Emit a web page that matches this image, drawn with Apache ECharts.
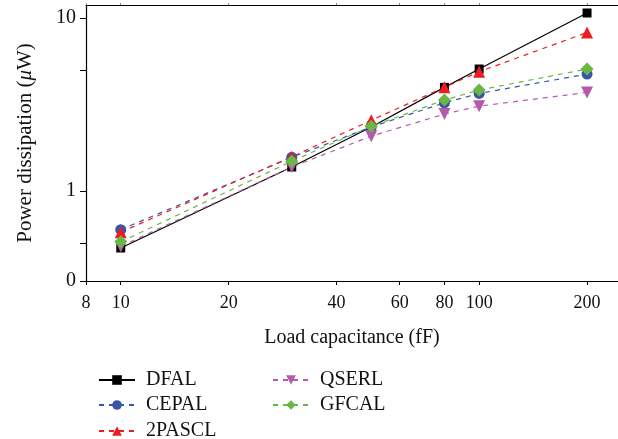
<!DOCTYPE html>
<html>
<head>
<meta charset="utf-8">
<script src="https://cdn.jsdelivr.net/npm/echarts@6/dist/echarts.min.js"></script>
<style>html,body{margin:0;padding:0;background:#fff;}#c{width:618px;height:439px;}</style>
</head>
<body>
<div id="c"></div>
<script>
const capacitance = [10, 30, 50, 80, 100, 200];
const DFAL   = [0.47, 1.38, 2.35, 3.98, 5.08, 10.7];
const CEPAL  = [0.60, 1.57, 2.35, 3.24, 3.67, 4.75];
const PASCL2 = [0.58, 1.58, 2.57, 3.98, 4.90, 8.25];
const QSERL  = [0.48, 1.38, 2.08, 2.79, 3.10, 3.72];
const GFCAL  = [0.51, 1.49, 2.37, 3.36, 3.84, 5.08];
const xTickValues = [8, 10, 20, 40, 60, 80, 100, 200];
const yLabelValues = [0.303, 1, 10];
const yTickValues = [0.303, 0.5, 1, 5, 10];
const seriesNames = ['DFAL', 'CEPAL', '2PASCL', 'QSERL', 'GFCAL'];

const FONT = 'Liberation Serif';
const pts = arr => capacitance.map((x, i) => [x, arr[i]]);

function mk(name, data, color, symbol, dashed, size) {
  return {
    name: name, type: 'line', data: pts(data),
    symbol: symbol, symbolSize: size,
    itemStyle: {color: color},
    lineStyle: {color: color, width: 1.2, type: dashed ? [5, 5] : 'solid'},
    emphasis: {disabled: true}
  };
}

const legendPos = [[93, 365], [93, 390], [93, 416], [267, 365], [267, 390]];
const legends = seriesNames.map((n, i) => ({
  data: [n], left: legendPos[i][0], top: legendPos[i][1],
  itemWidth: 36, itemHeight: 12, itemGap: 0,
  textStyle: {fontFamily: FONT, fontSize: 20, color: '#111', padding: [0, 0, 0, 6]}
}));

const chart = echarts.init(document.getElementById('c'), null, {renderer: 'canvas'});
chart.setOption({
  animation: false,
  backgroundColor: '#fff',
  grid: {left: 86, right: 0, top: 5, bottom: 158},
  xAxis: [{
    type: 'log', min: 8, max: 244,
    name: 'Load capacitance (fF)', nameLocation: 'middle', nameGap: 47,
    nameTextStyle: {fontFamily: FONT, fontSize: 20, color: '#111'},
    axisLine: {lineStyle: {color: '#000', width: 1.2}},
    axisTick: {length: 4, inside: false, customValues: xTickValues, lineStyle: {color: '#000'}},
    axisLabel: {customValues: xTickValues, fontFamily: FONT, fontSize: 18, color: '#111', margin: 13,
      formatter: v => String(Math.round(v))},
    splitLine: {show: false}, minorTick: {show: false}
  }, {
    type: 'log', min: 8, max: 244, position: 'top',
    axisLine: {lineStyle: {color: '#000', width: 1.2}},
    axisTick: {length: 2, customValues: xTickValues, lineStyle: {color: '#888'}},
    axisLabel: {show: false}, splitLine: {show: false}
  }],
  yAxis: {
    type: 'log', min: 0.303, max: 11.9,
    name: 'Power dissipation ({i|\u03bc}W)', nameLocation: 'middle', nameGap: 50,
    nameTextStyle: {fontFamily: FONT, fontSize: 21, color: '#111',
      rich: {i: {fontFamily: FONT, fontSize: 21, fontStyle: 'italic', color: '#111'}}},
    axisLine: {lineStyle: {color: '#000', width: 1.2}},
    axisTick: {length: 6, customValues: yTickValues, lineStyle: {color: '#000'}},
    axisLabel: {customValues: yLabelValues, fontFamily: FONT, fontSize: 20, color: '#111', margin: 10,
      formatter: v => String(Math.round(v))},
    splitLine: {show: false}, minorTick: {show: false}
  },
  legend: legends,
  series: [
    mk('DFAL', DFAL, '#000000', 'rect', false, 9),
    mk('CEPAL', CEPAL, '#3a55a4', 'circle', true, 11),
    mk('2PASCL', PASCL2, '#ed1c24', 'triangle', true, 12),
    Object.assign(mk('QSERL', QSERL, '#b55aaa', 'triangle', true, 12), {symbolRotate: 180}),
    mk('GFCAL', GFCAL, '#6ab843', 'diamond', true, 13)
  ]
});
</script>
</body>
</html>
